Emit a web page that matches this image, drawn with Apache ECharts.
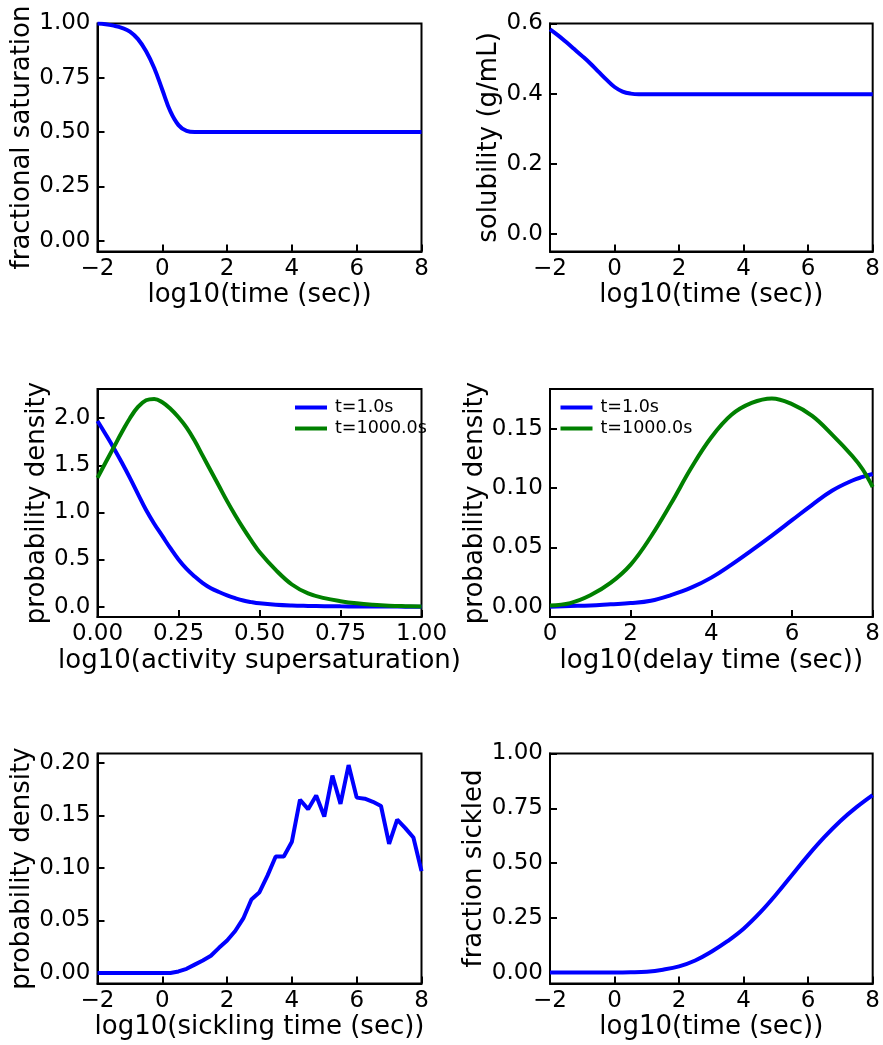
<!DOCTYPE html>
<html>
<head>
<meta charset="utf-8">
<script src="https://cdn.jsdelivr.net/npm/echarts@6/dist/echarts.min.js"></script>
<style>
  html, body { margin: 0; padding: 0; background: #fff; }
  #chart { width: 883px; height: 1045px; }
</style>
</head>
<body>
<div id="chart"></div>
<script>
// fractional saturation vs log10(time)
const satX = [-2, -1.75, -1.5, -1.25, -1, -0.75, -0.5, -0.25, 0, 0.25, 0.5, 0.75, 1, 1.5, 2, 4, 6, 8];
const satY = [1.0, 0.997, 0.99, 0.98, 0.963, 0.928, 0.872, 0.795, 0.695, 0.595, 0.532, 0.505, 0.5, 0.5, 0.5, 0.5, 0.5, 0.5];

// solubility vs log10(time)
const solX = [-2, -1.75, -1.5, -1.25, -1, -0.75, -0.5, -0.25, 0, 0.25, 0.5, 0.75, 1, 1.5, 2, 4, 6, 8];
const solY = [0.583, 0.566, 0.547, 0.527, 0.507, 0.486, 0.463, 0.44, 0.419, 0.406, 0.4, 0.398, 0.398, 0.398, 0.398, 0.398, 0.398, 0.398];

// activity supersaturation densities
const actX = [0, 0.025, 0.05, 0.075, 0.1, 0.125, 0.15, 0.175, 0.2, 0.225, 0.25, 0.275, 0.3, 0.325, 0.35, 0.375, 0.4, 0.425, 0.45, 0.475, 0.5,
  0.55, 0.6, 0.65, 0.7, 0.75, 0.8, 0.85, 0.9, 0.95, 1.0];
const actT1 = [1.97, 1.83, 1.685, 1.53, 1.367, 1.195, 1.025, 0.88, 0.75, 0.62, 0.5, 0.4, 0.32, 0.25, 0.195, 0.155, 0.12, 0.09, 0.065, 0.048, 0.035,
  0.02, 0.012, 0.008, 0.005, 0.003, 0.002, 0.001, 0.001, 0, 0];
const actT1000 = [1.367, 1.53, 1.69, 1.85, 2.0, 2.12, 2.19, 2.205, 2.17, 2.1, 2.01, 1.9, 1.76, 1.6, 1.44, 1.28, 1.12, 0.97, 0.83, 0.7, 0.58,
  0.39, 0.235, 0.14, 0.09, 0.058, 0.035, 0.02, 0.01, 0.005, 0.002];

// delay time densities
const delayX = [0, 0.5, 1, 1.5, 2, 2.5, 3, 3.5, 4, 4.5, 5, 5.5, 6, 6.5, 7, 7.5, 7.75, 8];
const delayT1 = [0.0, 0.0005, 0.001, 0.002, 0.003, 0.005, 0.0098, 0.016, 0.0245, 0.0355, 0.0475, 0.06, 0.073, 0.086, 0.098, 0.1065, 0.1095, 0.112];
const delayT1000 = [0.001, 0.003, 0.0096, 0.02, 0.0355, 0.059, 0.087, 0.117, 0.143, 0.162, 0.172, 0.1758, 0.171, 0.161, 0.145, 0.127, 0.116, 0.101];

// sickling time density
const sickX = [-2, -1.75, -1.5, -1.25, -1, -0.75, -0.5, -0.25, 0, 0.25, 0.5, 0.75, 1, 1.25, 1.5, 1.75, 2, 2.25, 2.5, 2.75, 3, 3.25, 3.5, 3.75, 4, 4.25, 4.5, 4.75, 5, 5.25, 5.5, 5.75, 6, 6.25, 6.5, 6.75, 7, 7.25, 7.5, 7.75, 8];
const sickPdf = [0, 0, 0, 0, 0, 0, 0, 0, 0, 0, 0.0015, 0.004, 0.008, 0.012, 0.0165, 0.024, 0.031, 0.04, 0.052, 0.07, 0.077, 0.093, 0.111, 0.111, 0.125, 0.165, 0.156, 0.169, 0.149, 0.188, 0.161, 0.198, 0.167, 0.166, 0.163, 0.159, 0.123, 0.146, 0.138, 0.129, 0.097];

// fraction sickled
const fracX = [-2, -1, 0, 0.5, 1, 1.5, 2, 2.5, 3, 3.5, 4, 4.5, 5, 5.5, 6, 6.5, 7, 7.5, 8];
const fracY = [0, 0, 0, 0.001, 0.004, 0.013, 0.028, 0.055, 0.095, 0.143, 0.2, 0.272, 0.355, 0.445, 0.535, 0.618, 0.692, 0.755, 0.81];

const legendNames = ['t=1.0s', 't=1000.0s'];
const BLUE = '#0000ff';
const GREEN = '#008000';
const FONT = 'DejaVu Sans';

const pairs = (xs, ys) => xs.map((x, i) => [x, ys[i]]);
const fmtX = (v) => (v < 0 ? '\u2212' + Math.abs(v) : String(v));

const grids = [
  { left: 97.5, top: 23.5, width: 324, height: 228 },
  { left: 550, top: 23.5, width: 323.5, height: 228 },
  { left: 97.5, top: 389, width: 324, height: 228 },
  { left: 550, top: 389, width: 324, height: 228 },
  { left: 97.5, top: 753.5, width: 324, height: 230 },
  { left: 550, top: 753.5, width: 324, height: 230 },
].map((g) => Object.assign({ show: true, borderColor: '#000', borderWidth: 2 }, g));

const axisLine = { show: true, onZero: false, lineStyle: { color: '#000', width: 2 } };

const makeX = (idx, name, min, max, interval, fmt) => ({
  type: 'value',
  gridIndex: idx,
  min, max, interval,
  name,
  nameLocation: 'middle',
  nameGap: 31,
  nameTextStyle: { fontSize: 26, color: '#000', fontFamily: FONT },
  axisLine,
  axisTick: { show: true, inside: true, length: 7, lineStyle: { color: '#000', width: 2 } },
  axisLabel: { margin: 6, fontSize: 23, color: '#000', fontFamily: FONT, formatter: fmt },
  splitLine: { show: false },
});

const makeY = (idx, name, min, max, ticks, digits, gap) => ({
  type: 'value',
  gridIndex: idx,
  min, max,
  name,
  nameLocation: 'middle',
  nameGap: gap,
  nameTextStyle: { fontSize: 26, color: '#000', fontFamily: FONT },
  axisLine,
  axisTick: { show: true, inside: true, length: 7, customValues: ticks, lineStyle: { color: '#000', width: 2 } },
  axisLabel: { margin: 7, fontSize: 23, color: '#000', fontFamily: FONT, customValues: ticks, formatter: (v) => v.toFixed(digits) },
  splitLine: { show: false },
});

const line = (name, idx, data, color, smooth) => ({
  name,
  type: 'line',
  xAxisIndex: idx,
  yAxisIndex: idx,
  data,
  symbol: 'none',
  smooth: smooth ? 0.4 : false,
  lineStyle: { color, width: 4 },
  itemStyle: { color },
});

const legendBox = (left) => ({
  data: legendNames,
  orient: 'vertical',
  left, top: 398.5,
  padding: 0,
  icon: 'rect',
  itemWidth: 32,
  itemHeight: 4,
  itemGap: 3,
  selectedMode: false,
  textStyle: { fontSize: 17.5, lineHeight: 17.5, color: '#000', fontFamily: FONT, padding: [0, 0, 0, 3] },
});

const chart = echarts.init(document.getElementById('chart'));
const option = {
  animation: false,
  backgroundColor: '#fff',
  textStyle: { fontFamily: FONT },
  grid: grids,
  legend: [legendBox(295), legendBox(560.5)],
  xAxis: [
    makeX(0, 'log10(time (sec))', -2, 8, 2, fmtX),
    makeX(1, 'log10(time (sec))', -2, 8, 2, fmtX),
    makeX(2, 'log10(activity supersaturation)', 0, 1, 0.25, (v) => v.toFixed(2)),
    makeX(3, 'log10(delay time (sec))', 0, 8, 2, fmtX),
    makeX(4, 'log10(sickling time (sec))', -2, 8, 2, fmtX),
    makeX(5, 'log10(time (sec))', -2, 8, 2, fmtX),
  ],
  yAxis: [
    makeY(0, 'fractional saturation', -0.05, 1.0, [0, 0.25, 0.5, 0.75, 1.0], 2, 60),
    makeY(1, 'solubility (g/mL)', -0.05, 0.6, [0, 0.2, 0.4, 0.6], 1, 46),
    makeY(2, 'probability density', -0.11, 2.31, [0, 0.5, 1.0, 1.5, 2.0], 1, 44),
    makeY(3, 'probability density', -0.00875, 0.18375, [0, 0.05, 0.1, 0.15], 2, 60),
    makeY(4, 'probability density', -0.00995, 0.209, [0, 0.05, 0.1, 0.15, 0.2], 2, 60),
    makeY(5, 'fraction sickled', -0.05, 1.0, [0, 0.25, 0.5, 0.75, 1.0], 2, 63),
  ],
  series: [
    line('saturation', 0, pairs(satX, satY), BLUE, true),
    line('solubility', 1, pairs(solX, solY), BLUE, true),
    line('t=1.0s', 2, pairs(actX, actT1), BLUE, true),
    line('t=1000.0s', 2, pairs(actX, actT1000), GREEN, true),
    line('t=1.0s', 3, pairs(delayX, delayT1), BLUE, true),
    line('t=1000.0s', 3, pairs(delayX, delayT1000), GREEN, true),
    line('sickling', 4, pairs(sickX, sickPdf), BLUE, false),
    line('sickled', 5, pairs(fracX, fracY), BLUE, true),
  ],
};
chart.setOption(option);
</script>
</body>
</html>
